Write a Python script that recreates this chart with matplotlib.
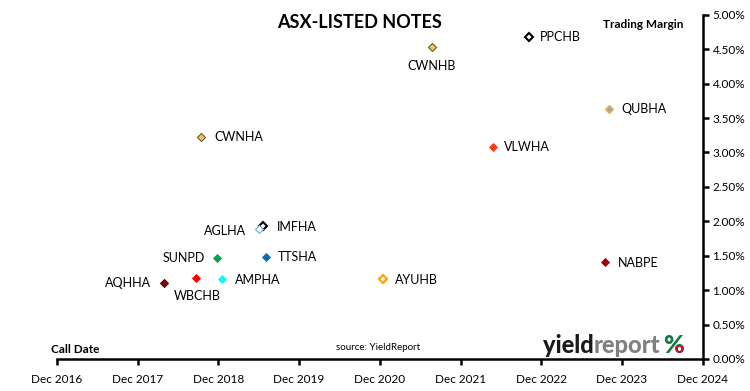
import matplotlib.pyplot as plt
import matplotlib.dates as mdates
from matplotlib.transforms import Bbox
import numpy as np
import datetime as dt

# ASX-listed notes: call date vs trading margin (%)
codes = ["CWNHA", "CWNHB", "PPCHB", "QUBHA", "VLWHA", "IMFHA", "AGLHA",
         "SUNPD", "TTSHA", "AQHHA", "WBCHB", "AMPHA", "AYUHB", "NABPE"]
call_dates = ["2018-09-14", "2021-07-23", "2022-10-07", "2023-10-04",
              "2022-04-26", "2019-06-23", "2019-06-01", "2018-11-23",
              "2019-07-04", "2018-03-28", "2018-08-21", "2018-12-16",
              "2020-12-16", "2023-09-15"]
margins = [3.23, 4.53, 4.68, 3.63, 3.08, 1.93, 1.89,
           1.47, 1.48, 1.10, 1.18, 1.16, 1.16, 1.41]

# marker style per code: (face, edge, size, edge width)
styles = {
    "CWNHA": ("#F2C94C", "#5A4A1A", 3.6, 0.7),
    "CWNHB": ("#F2C94C", "#5A4A1A", 3.6, 0.7),
    "PPCHB": ("white", "black", 3.8, 1.5),
    "QUBHA": ("#A6A6A6", "#F0B050", 4.2, 1.0),
    "VLWHA": ("#FF3A10", "#FF3A10", 4.0, 0.6),
    "IMFHA": ("white", "black", 3.8, 1.5),
    "AGLHA": ("white", "#6FA8DC", 4.0, 0.8),
    "SUNPD": ("#00A651", "#00A651", 3.8, 0.6),
    "TTSHA": ("#0070C0", "#0070C0", 4.4, 0.6),
    "AQHHA": ("#8B0000", "#3A0000", 3.6, 0.7),
    "WBCHB": ("#FF0000", "#FF0000", 3.6, 0.6),
    "AMPHA": ("#00FFFF", "#00FFFF", 4.0, 0.6),
    "AYUHB": ("white", "#FFA500", 3.8, 1.6),
    "NABPE": ("#A50000", "#A50000", 3.6, 0.6),
}

# label placement (offset pixels, ha); negative dy = below the point
label_pos = {
    "CWNHA": (13, 0, "left"), "CWNHB": (0, -19, "center"),
    "PPCHB": (11, 0, "left"), "QUBHA": (12, 0, "left"),
    "VLWHA": (11, 0, "left"), "IMFHA": (13, -1, "left"),
    "AGLHA": (-12, -2, "right"), "SUNPD": (-12, 0, "right"),
    "TTSHA": (12, 0, "left"), "AQHHA": (-12, 0, "right"),
    "WBCHB": (1, -18, "center"), "AMPHA": (13, -1, "left"),
    "AYUHB": (12, -1, "left"), "NABPE": (13, -1, "left"),
}

plt.rcParams["font.family"] = ["Lato", "DejaVu Sans"]

fig = plt.figure(figsize=(7.5, 3.91), dpi=100)
ax = fig.add_axes([0.076, 0.082, 0.861, 0.88])

dates = [dt.datetime.strptime(d, "%Y-%m-%d") for d in call_dates]
for code, d, m in zip(codes, dates, margins):
    fc, ec, ms, mew = styles[code]
    ax.plot(d, m, marker="D", ms=ms, mfc=fc, mec=ec, mew=mew, ls="none",
            zorder=3)
    dx, dy, ha = label_pos[code]
    ax.annotate(code, (d, m), xytext=(dx, dy), textcoords="offset pixels",
                ha=ha, va="center", fontsize=9, color="black")

ax.set_xlim(dt.datetime(2016, 12, 1), dt.datetime(2024, 12, 1))
ax.set_ylim(0, 5)
ax.xaxis.set_major_locator(mdates.MonthLocator(bymonth=12, bymonthday=1))
ax.xaxis.set_major_formatter(mdates.DateFormatter("Dec %Y"))
ax.yaxis.tick_right()
ax.set_yticks(np.arange(0, 5.01, 0.5))
ax.set_yticklabels([f"{v:.2f}%" for v in np.arange(0, 5.01, 0.5)])

for s in ["left", "top"]:
    ax.spines[s].set_visible(False)
for s in ["bottom", "right"]:
    ax.spines[s].set_linewidth(1.8)
ax.tick_params(axis="both", direction="out", length=4, width=1.8,
               labelsize=8.5)
ax.tick_params(axis="x", pad=7)
ax.tick_params(axis="y", pad=3)

fig.text(0.48, 0.942, "ASX-LISTED NOTES", ha="center", va="center",
         fontsize=13, fontweight="bold")
fig.text(0.857, 0.937, "Trading Margin", ha="center", va="center",
         fontsize=8.5, fontweight="bold")
fig.text(0.068, 0.105, "Call Date", ha="left", va="center",
         fontsize=8.5, fontweight="bold")
fig.text(0.504, 0.112, "source: YieldReport", ha="center", va="center",
         fontsize=7)

# logo
t1 = fig.text(0.724, 0.098, "yield", ha="left", va="baseline",
              fontsize=17, fontweight="black", color="#1A1A1A")
t2 = ax.annotate("report", xy=(1, 0), xycoords=t1, va="bottom",
                 fontsize=17, fontweight="black", color="#808080")
pct_g = ax.annotate("%", xy=(1, 0), xycoords=t2, xytext=(3, 0),
                    textcoords="offset pixels", va="bottom", fontsize=18,
                    fontweight="black", color="#0B7A3B")
pct_r = ax.annotate("%", xy=(1, 0), xycoords=t2, xytext=(3, 0),
                    textcoords="offset pixels", va="bottom", fontsize=18,
                    fontweight="black", color="#C8102E")
fig.canvas.draw()
bb = pct_g.get_window_extent()
pct_r.set_clip_box(Bbox.from_extents(bb.x0 + bb.width * 0.5, bb.y0,
                                     bb.x1, bb.y0 + bb.height * 0.45))
pct_r.set_clip_on(True)

fig.savefig("out.png", dpi=100)
